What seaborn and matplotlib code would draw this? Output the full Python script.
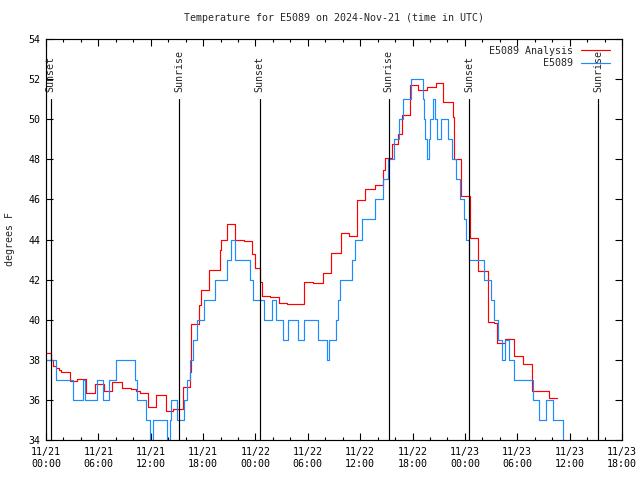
import pandas as pd
import numpy as np
import seaborn as sns
import matplotlib.pyplot as plt
import matplotlib.dates as mdates

# hours since 2024-11-21 00:00 UTC, values held until the next point
obs_hours = [0.0, 1.2, 3.1, 4.2, 4.45, 5.9, 6.5, 7.25, 8.0, 10.15, 10.4, 11.45, 11.95, 12.3,
             13.9, 14.2, 14.35, 15.0, 15.85, 16.15, 16.5, 16.85, 17.3, 18.1, 19.35, 20.75,
             21.2, 21.6, 23.4, 23.7, 24.95, 25.95, 26.4, 27.1, 27.75, 28.9, 29.6, 31.15,
             32.2, 32.4, 33.2, 33.5, 33.65, 35.1, 35.4, 36.2, 37.7, 38.6, 39.2, 39.9, 40.5,
             40.9, 41.85, 43.15, 43.3, 43.45, 43.6, 43.85, 44.0, 44.3, 44.6, 44.8, 45.3,
             46.1, 46.5, 46.95, 47.45, 47.9, 48.15, 48.45, 50.15, 51.0, 51.35, 51.75, 52.25,
             52.65, 53.0, 53.6, 55.75, 56.45, 57.25, 58.15, 59.2, 59.5]
obs_temp = [38, 37, 36, 37, 36, 37, 36, 37, 38, 37, 36, 35, 34, 35,
            34, 35, 36, 35, 36, 37, 38, 39, 40, 41, 42, 43,
            44, 43, 42, 41, 40, 41, 40, 39, 40, 39, 40, 39,
            38, 39, 40, 41, 42, 43, 44, 45, 46, 47, 48, 49, 50,
            51, 52, 51, 50, 49, 48, 49, 50, 51, 50, 49, 50,
            49, 48, 47, 46, 45, 44, 43, 42, 41, 40, 39, 38,
            39, 38, 37, 36, 35, 36, 35, 34, 34]

ana_hours = [0.0, 0.6, 0.85, 1.15, 1.45, 1.75, 2.7, 3.6, 4.6, 5.6, 6.7, 7.6, 8.7, 9.7,
             10.3, 10.8, 11.65, 12.65, 13.7, 14.5, 15.65, 16.45, 16.6, 17.55, 17.8, 18.7,
             19.9, 20.0, 20.75, 21.6, 22.65, 23.65, 23.95, 24.55, 24.75, 25.7, 26.7, 27.6,
             29.6, 30.65, 31.7, 32.7, 33.75, 34.7, 35.6, 36.6, 37.65, 38.6, 38.8, 39.7,
             40.35, 40.75, 41.7, 42.65, 43.65, 44.7, 45.45, 46.6, 46.7, 47.6, 48.6, 49.5,
             50.6, 51.3, 51.7, 52.6, 53.6, 54.7, 55.7, 57.6, 58.6]
ana_temp = [38.32, 38.0, 37.7, 37.6, 37.5, 37.39, 36.93, 37.03, 36.33, 36.79, 36.46, 36.88, 36.58, 36.53,
            36.46, 36.33, 35.63, 36.23, 35.47, 35.57, 36.63, 37.4, 39.8, 40.73, 41.5, 42.46,
            43.48, 44.0, 44.76, 44.0, 43.92, 43.3, 42.56, 41.9, 41.18, 41.12, 40.84, 40.78,
            41.9, 41.85, 42.31, 43.35, 44.31, 44.17, 45.97, 46.5, 46.7, 47.47, 48.05, 48.74,
            49.26, 50.2, 51.7, 51.46, 51.6, 51.83, 50.87, 50.1, 48.0, 46.17, 44.06, 42.44,
            39.9, 39.85, 38.82, 39.02, 38.18, 37.79, 36.43, 36.08, 36.08]

sun_hours = [0.53, 15.27, 24.5, 39.25, 48.47, 63.27]
sun_labels = ['Sunset', 'Sunrise', 'Sunset', 'Sunrise', 'Sunset', 'Sunrise']

start = pd.Timestamp('2024-11-21 00:00')
to_time = lambda h: start + pd.to_timedelta(np.array(h), unit='h')

obs_df = pd.DataFrame({'time': to_time(obs_hours), 'temp': obs_temp})
ana_df = pd.DataFrame({'time': to_time(ana_hours), 'temp': ana_temp})

sns.set_style('ticks')
plt.rcParams['font.family'] = ['DejaVu Sans Mono']
plt.rcParams['font.size'] = 7.2

fig = plt.figure(figsize=(6.4, 4.8), dpi=100)
ax = fig.add_axes([46 / 640, 40 / 480, 576 / 640, 401 / 480])

sns.lineplot(data=ana_df, x='time', y='temp', drawstyle='steps-post', color='#ff0000',
             linewidth=0.85, label='E5089 Analysis', ax=ax)
sns.lineplot(data=obs_df, x='time', y='temp', drawstyle='steps-post', color='#1a8cff',
             linewidth=0.85, label='E5089', ax=ax)

for h, lab in zip(sun_hours, sun_labels):
    t = to_time([h])[0]
    ax.plot([t, t], [34, 51], color='black', linewidth=0.85)
    ax.text(t, 51.35, lab, rotation=90, ha='center', va='bottom', fontsize=7.2)

ax.set_xlim(start, start + pd.Timedelta(hours=66))
ax.set_ylim(34, 54)
ax.set_yticks(np.arange(34, 55, 2))
ax.xaxis.set_major_locator(mdates.HourLocator(byhour=[0, 6, 12, 18]))
ax.xaxis.set_minor_locator(mdates.HourLocator(interval=2))
ax.xaxis.set_major_formatter(mdates.DateFormatter('%m/%d\n%H:%M'))

ax.tick_params(which='both', direction='in', top=True, right=True, width=0.8,
               colors='black', labelsize=7.2)
ax.tick_params(which='major', length=5, pad=4)
ax.tick_params(which='minor', length=2.5)
ax.tick_params(axis='x', pad=5)
for s in ax.spines.values():
    s.set_linewidth(0.85)
    s.set_color('black')

ax.set_xlabel('')
ax.set_ylabel('degrees F', fontsize=7.2, labelpad=10)
ax.set_title('Temperature for E5089 on 2024-Nov-21 (time in UTC)', fontsize=7.2, pad=13)

ax.legend(loc='upper right', bbox_to_anchor=(1 - 12 / 576, 1 - 7 / 401), frameon=False,
          markerfirst=False, handlelength=2.9, handletextpad=0.8, labelspacing=0.25,
          borderpad=0, borderaxespad=0, fontsize=7.2)

fig.savefig('out.png', dpi=100)
